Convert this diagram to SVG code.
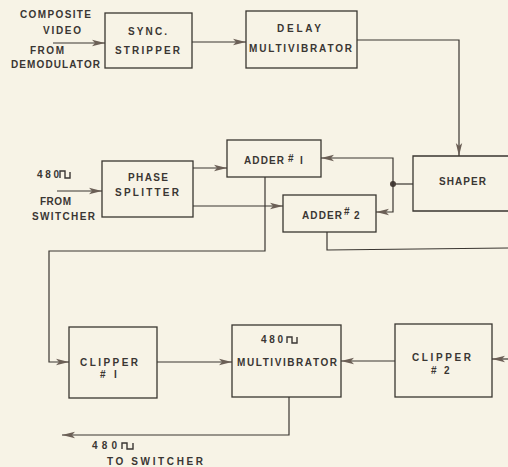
<svg xmlns="http://www.w3.org/2000/svg" width="508" height="467" viewBox="0 0 508 467">
<defs>
<style>
.bg{fill:#f7f3e6}
.box{fill:none;stroke:#3a3631;stroke-width:1.3}
.ln{fill:none;stroke:#3a3631;stroke-width:1.2}
.ar{marker-end:url(#ah)}
text{font-family:"Liberation Sans",Arial,sans-serif;font-weight:bold;font-size:10px;fill:#3a3633}
.sq{fill:none;stroke:#3a3633;stroke-width:1.4}
</style>
<marker id="ah" markerUnits="userSpaceOnUse" markerWidth="14" markerHeight="8" viewBox="0 0 14 8" refX="13" refY="4" orient="auto">
<path d="M0,0.8 L13,4 L0,7.2 L3,4 Z" fill="#6b5f56"/>
</marker>
</defs>
<rect class="bg" x="0" y="0" width="508" height="467"/>

<g id="connectors">
<path class="ln ar" d="M53,43 H105"/>
<path class="ln ar" d="M192,42 H246"/>
<path class="ln ar" d="M357,40 H459 V156"/>
<path class="ln" d="M413,184 H393"/>
<circle cx="393" cy="184" r="3" fill="#4a403a"/>
<path class="ln ar" d="M393,184 V158 H321"/>
<path class="ln ar" d="M393,184 V212 H376"/>
<path class="ln ar" d="M57,191 H102"/>
<path class="ln ar" d="M193,168 H227"/>
<path class="ln ar" d="M193,206 H283"/>
<path class="ln ar" d="M265,177 V251 H49 V362 H69"/>
<path class="ln" d="M327,232 V250 L508,248"/>
<path class="ln ar" d="M508,359 H492"/>
<path class="ln ar" d="M157,362 H232"/>
<path class="ln ar" d="M395,361 H341"/>
<path class="ln ar" d="M289,397 V435 H62"/>
</g>

<g id="input-video">
<text x="20" y="18" textLength="71" lengthAdjust="spacing">COMPOSITE</text>
<text x="43" y="34" textLength="38" lengthAdjust="spacing">VIDEO</text>
<text x="30" y="54" textLength="34" lengthAdjust="spacing">FROM</text>
<text x="11" y="68" textLength="89" lengthAdjust="spacing">DEMODULATOR</text>
</g>

<g id="sync-stripper">
<rect class="box" x="105" y="13" width="87" height="55"/>
<text x="128" y="35" textLength="39" lengthAdjust="spacing">SYNC.</text>
<text x="115" y="54" textLength="65" lengthAdjust="spacing">STRIPPER</text>
</g>

<g id="delay-multivibrator">
<rect class="box" x="246" y="11" width="111" height="57"/>
<text x="277" y="32" textLength="44" lengthAdjust="spacing">DELAY</text>
<text x="249" y="52" textLength="103" lengthAdjust="spacing">MULTIVIBRATOR</text>
</g>

<g id="shaper">
<path class="box" d="M510,156 H413 V211 H510"/>
<text x="439" y="185" textLength="47" lengthAdjust="spacing">SHAPER</text>
</g>

<g id="input-switcher">
<text x="37" y="178" textLength="22" lengthAdjust="spacing">480</text>
<path class="sq" d="M60,178 V171 H65 V178 H70 V172"/>
<text x="40" y="205" textLength="31" lengthAdjust="spacing">FROM</text>
<text x="32" y="220" textLength="63" lengthAdjust="spacing">SWITCHER</text>
</g>

<g id="phase-splitter">
<rect class="box" x="102" y="161" width="91" height="56"/>
<text x="128" y="181" textLength="40" lengthAdjust="spacing">PHASE</text>
<text x="115" y="196" textLength="64" lengthAdjust="spacing">SPLITTER</text>
</g>

<g id="adder-1">
<rect class="box" x="227" y="140" width="94" height="37"/>
<text x="244" y="164" textLength="40" lengthAdjust="spacing">ADDER</text>
<text x="288" y="162" font-size="11">#</text>
<text x="300" y="164" font-size="8">I</text>
</g>

<g id="adder-2">
<rect class="box" x="283" y="195" width="93" height="37"/>
<text x="302" y="219" textLength="40" lengthAdjust="spacing">ADDER</text>
<text x="344" y="215" font-size="11">#</text>
<text x="354" y="219" font-size="9">2</text>
</g>

<g id="clipper-1">
<rect class="box" x="69" y="327" width="88" height="71"/>
<text x="80" y="366" textLength="58" lengthAdjust="spacing">CLIPPER</text>
<text x="100" y="378" font-size="9">#</text>
<text x="114" y="378" font-size="9">I</text>
</g>

<g id="multivibrator">
<rect class="box" x="232" y="325" width="109" height="72"/>
<text x="261" y="343" textLength="22" lengthAdjust="spacing">480</text>
<path class="sq" d="M287,343 V337 H292 V343 H297 V337"/>
<text x="237" y="366" textLength="100" lengthAdjust="spacing">MULTIVIBRATOR</text>
</g>

<g id="clipper-2">
<rect class="box" x="395" y="324" width="97" height="73"/>
<text x="412" y="361" textLength="59" lengthAdjust="spacing">CLIPPER</text>
<text x="431" y="374" font-size="9">#</text>
<text x="444" y="374" font-size="9">2</text>
</g>

<g id="output-switcher">
<text x="92" y="449" textLength="25" lengthAdjust="spacing">480</text>
<path class="sq" d="M122,449 V443 H127 V449 H133 V443"/>
<text x="107" y="465" textLength="96" lengthAdjust="spacing">TO SWITCHER</text>
</g>
</svg>
